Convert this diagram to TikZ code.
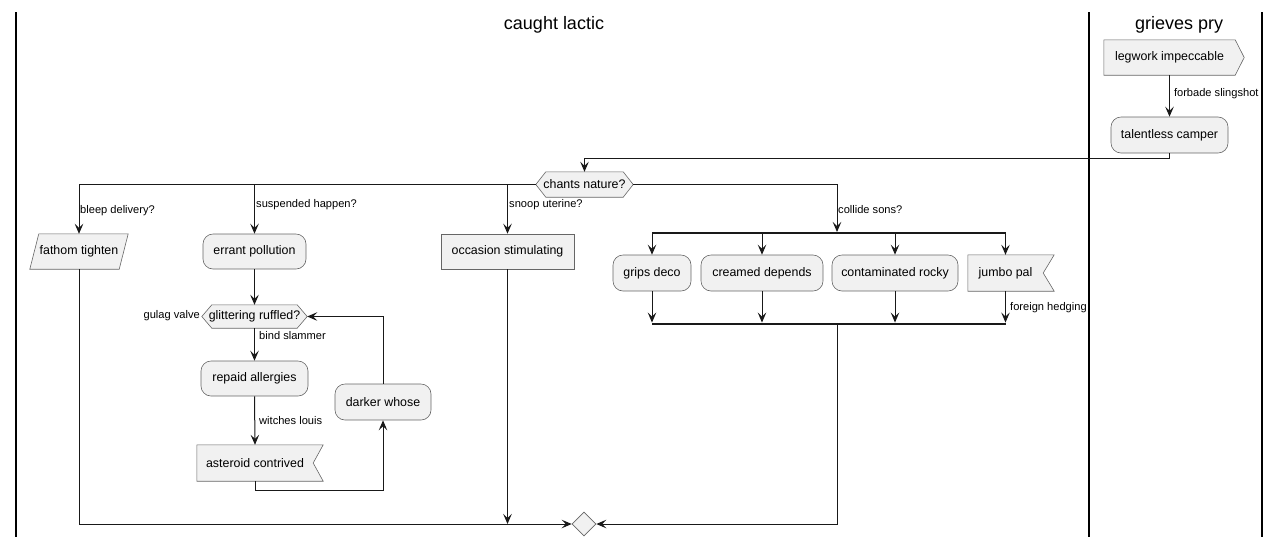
\documentclass[tikz,border=0pt]{standalone}
\usepackage{fontspec}
\setmainfont{Liberation Sans}
\usetikzlibrary{arrows.meta,shapes.geometric,backgrounds}
\definecolor{boxfill}{HTML}{F1F1F1}
\begin{document}
\begin{tikzpicture}[x=1pt,y=-1pt,
  shp/.style={draw=black!60, fill=boxfill, line width=0.6pt},
  txt/.style={inner sep=0pt, font=\fontsize{12.4}{14}\selectfont},
  rbox/.style={txt, shp, rounded corners=10pt},
  sbox/.style={txt, shp},
  lbl/.style={inner sep=0pt, font=\fontsize{11.1}{13}\selectfont},
  ttl/.style={inner sep=0pt, font=\fontsize{18}{22}\selectfont},
  arr/.style={draw=black!90, line width=1pt, -{Stealth[length=10pt,width=8.5pt,inset=4pt]}},
  bar/.style={fill=black!90, inner sep=0pt, minimum height=2.5pt, minimum width=354pt},
  lane/.style={draw=black, line width=2pt}
]
\useasboundingbox (0,0) rectangle (1281,547);
% lanes
\draw[lane] (16,12) -- (16,537);
\draw[lane] (1089,12) -- (1089,537);
\draw[lane] (1262,12) -- (1262,537);
\node[ttl] (t1) at (554,25) {caught lactic};
\node[ttl] (t2) at (1179,25) {grieves pry};

% nodes
\node[txt, minimum width=131pt, minimum height=35pt] (leg) at (1169.5,57.5) {legwork impeccable};
\node[rbox, minimum width=117pt, minimum height=36pt] (tal) at (1169.5,135) {talentless camper};
\node[txt, minimum width=97pt, minimum height=25pt] (chants) at (584.5,184.5) {chants nature?};
\node[txt, minimum width=98pt, minimum height=35pt] (fathom) at (79,251.5) {fathom tighten};
\node[rbox, minimum width=103pt, minimum height=35pt] (errant) at (254.5,251.5) {errant pollution};
\node[sbox, minimum width=133pt, minimum height=35pt] (occ) at (507.5,251.5) {occasion stimulating};
\node[bar] (fork) at (829,233) {};
\node[rbox, minimum width=78pt, minimum height=36pt] (grips) at (652,273) {grips deco};
\node[rbox, minimum width=122pt, minimum height=36pt] (creamed) at (762,273) {creamed depends};
\node[rbox, minimum width=126pt, minimum height=36pt] (contam) at (895,273) {contaminated rocky};
\node[txt, minimum width=75pt, minimum height=36pt] (jumbo) at (1005.5,273) {jumbo pal};
\node[bar] (join) at (829,324) {};
\node[txt, minimum width=105pt, minimum height=23pt] (glitter) at (254.5,316.5) {glittering ruffled?};
\node[rbox, minimum width=107pt, minimum height=35pt] (repaid) at (254.5,378.5) {repaid allergies};
\node[rbox, minimum width=96pt, minimum height=36pt] (darker) at (383,402) {darker whose};
\node[txt, minimum width=116pt, minimum height=36pt] (aster) at (255,463) {asteroid contrived};
\node[shp, diamond, inner sep=0pt, minimum width=24pt, minimum height=24pt] (merge) at (584,524) {};

\begin{scope}[on background layer]
\draw[shp] (leg.north west) -- (leg.north east) -- ([xshift=9pt]leg.east) -- (leg.south east) -- (leg.south west) -- cycle;
\draw[shp] (chants.west) -- ([xshift=10pt]chants.north west) -- ([xshift=-10pt]chants.north east) -- (chants.east) -- ([xshift=-10pt]chants.south east) -- ([xshift=10pt]chants.south west) -- cycle;
\draw[shp] (glitter.west) -- ([xshift=10pt]glitter.north west) -- ([xshift=-10pt]glitter.north east) -- (glitter.east) -- ([xshift=-10pt]glitter.south east) -- ([xshift=10pt]glitter.south west) -- cycle;
\draw[shp] ([xshift=9pt]fathom.north west) -- (fathom.north east) -- ([xshift=-9pt]fathom.south east) -- (fathom.south west) -- cycle;
\draw[shp] (jumbo.north west) -- ([xshift=11pt]jumbo.north east) -- (jumbo.east) -- ([xshift=11pt]jumbo.south east) -- (jumbo.south west) -- cycle;
\draw[shp] (aster.north west) -- ([xshift=10pt]aster.north east) -- (aster.east) -- ([xshift=10pt]aster.south east) -- (aster.south west) -- cycle;
\end{scope}

% connectors
\draw[arr] (leg.south) -- (tal.north) node[lbl, pos=0.45, anchor=west, xshift=4pt] (l1) {forbade slingshot};
\draw[arr] (tal.south) -- ++(0,5) -| (chants.north);
\draw[arr] (chants.west) -| (fathom.north);
\node[lbl, anchor=west] (l2) at (80,211) {bleep delivery?};
\draw[arr] (chants.west -| errant.north) -- (errant.north);
\node[lbl, anchor=west] (l3) at (256,205) {suspended happen?};
\draw[arr] (chants.west -| occ.north) -- (occ.north);
\node[lbl, anchor=west] (l4) at (509,205) {snoop uterine?};
\coordinate (fin) at (837,232);
\draw[arr] (chants.east) -| (fin);
\node[lbl, anchor=west] (l5) at (838,210) {collide sons?};
\foreach \n in {grips,creamed,contam,jumbo}{
  \draw[arr] (fork.south -| \n.north) -- (\n.north);
  \draw[arr] (\n.south) -- (\n.south |- join.north);
}
\node[lbl, anchor=west] (l6) at (1010,308) {foreign hedging};
\coordinate (jout) at (837,325);
\draw[arr] (jout) |- (merge.east);
\draw[arr] (fathom.south) |- (merge.west);
\draw[arr] (occ.south) -- (occ.south |- merge.west);
\draw[arr] (errant.south) -- (glitter.north);
\node[lbl, anchor=east] (l7) at (200,316) {gulag valve};
\draw[arr] (glitter.south) -- (repaid.north);
\node[lbl, anchor=west] (l8) at (259,336) {bind slammer};
\draw[arr] (repaid.south) -- (aster.north);
\node[lbl, anchor=west] (l9) at (259,421) {witches louis};
\draw[arr] (aster.south) -- ++(0,9) -| (darker.south);
\draw[arr] (darker.north) |- (glitter.east);
\end{tikzpicture}
\end{document}
